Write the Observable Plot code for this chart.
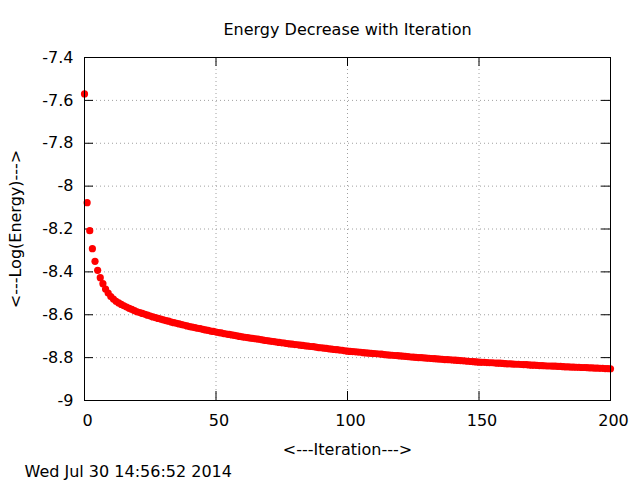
<!DOCTYPE html>
<html><head><meta charset="utf-8">
<script src="https://cdn.jsdelivr.net/npm/d3@7"></script>
<script src="https://cdn.jsdelivr.net/npm/@observablehq/plot@0.6"></script>
<style>body{margin:0;background:#fff} svg{font-family:"DejaVu Sans"}</style>
</head><body><div id="chart"></div>
<script>
const energy = [
-7.570,-8.077,-8.208,-8.292,-8.351,-8.393,-8.427,-8.455,-8.480,-8.499,
-8.515,-8.527,-8.537,-8.545,-8.552,-8.558,-8.564,-8.570,-8.575,-8.581,
-8.586,-8.590,-8.594,-8.598,-8.602,-8.606,-8.610,-8.613,-8.617,-8.620,
-8.624,-8.627,-8.630,-8.634,-8.637,-8.640,-8.643,-8.646,-8.649,-8.652,
-8.655,-8.658,-8.660,-8.663,-8.665,-8.668,-8.671,-8.673,-8.676,-8.678,
-8.681,-8.683,-8.685,-8.688,-8.690,-8.692,-8.694,-8.696,-8.699,-8.701,
-8.703,-8.705,-8.707,-8.709,-8.710,-8.712,-8.714,-8.716,-8.718,-8.720,
-8.722,-8.724,-8.725,-8.727,-8.729,-8.731,-8.732,-8.734,-8.736,-8.737,
-8.739,-8.740,-8.742,-8.743,-8.745,-8.746,-8.748,-8.749,-8.751,-8.753,
-8.754,-8.756,-8.757,-8.759,-8.760,-8.762,-8.763,-8.765,-8.766,-8.768,
-8.770,-8.771,-8.772,-8.773,-8.774,-8.775,-8.777,-8.778,-8.779,-8.780,
-8.781,-8.782,-8.783,-8.784,-8.786,-8.787,-8.788,-8.789,-8.790,-8.791,
-8.792,-8.793,-8.794,-8.795,-8.797,-8.798,-8.799,-8.800,-8.800,-8.801,
-8.802,-8.803,-8.804,-8.805,-8.806,-8.807,-8.808,-8.809,-8.809,-8.810,
-8.811,-8.812,-8.813,-8.814,-8.815,-8.816,-8.817,-8.818,-8.819,-8.820,
-8.821,-8.822,-8.822,-8.823,-8.824,-8.824,-8.825,-8.826,-8.826,-8.827,
-8.828,-8.829,-8.829,-8.830,-8.831,-8.831,-8.832,-8.833,-8.833,-8.834,
-8.835,-8.835,-8.836,-8.837,-8.837,-8.838,-8.839,-8.839,-8.840,-8.840,
-8.841,-8.841,-8.842,-8.843,-8.843,-8.844,-8.844,-8.845,-8.845,-8.846,
-8.846,-8.847,-8.848,-8.848,-8.849,-8.849,-8.850,-8.850,-8.851,-8.851,
-8.852];
const iteration = energy.map((_, i) => i);
const xTicks = [0, 50, 100, 150, 200];
const yTicks = [-7.4, -7.6, -7.8, -8, -8.2, -8.4, -8.6, -8.8, -9];
const title = "Energy Decrease with Iteration";
const xLabel = "<---Iteration--->";
const yLabel = "<---Log(Energy)--->";
const stamp = "Wed Jul 30 14:56:52 2014";
const data = iteration.map((x, i) => ({x, y: energy[i]}));

const W = 640, H = 480, mL = 84, mR = 30, mT = 57, mB = 80;
const fw = W - mL - mR, fh = H - mT - mB;
const tick = 9;
const grid = {stroke: "#a0a0a0", strokeOpacity: 1, strokeDasharray: "1,3"};

const plot = Plot.plot({
  width: W, height: H,
  marginLeft: mL, marginRight: mR, marginTop: mT, marginBottom: mB,
  x: {domain: [0, 200]},
  y: {domain: [-9, -7.4]},
  style: {fontFamily: "DejaVu Sans", fontSize: "16px", background: "#fff", color: "#000", overflow: "visible"},
  marks: [
    Plot.gridX(xTicks.slice(1, -1), grid),
    Plot.gridY(yTicks.slice(1, -1), grid),
    Plot.tickX(xTicks, {x: d => d, stroke: "#000", insetTop: fh - tick}),
    Plot.tickX(xTicks, {x: d => d, stroke: "#000", insetBottom: fh - tick}),
    Plot.tickY(yTicks, {y: d => d, stroke: "#000", insetRight: fw - tick}),
    Plot.tickY(yTicks, {y: d => d, stroke: "#000", insetLeft: fw - tick}),
    Plot.dot(data, {x: "x", y: "y", r: 3.6, fill: "#ff0000", stroke: "none"}),
    Plot.frame({stroke: "#000", strokeWidth: 1}),
    Plot.axisX(xTicks, {tickSize: 0, tickPadding: 14, dx: 3, label: null}),
    Plot.axisY(yTicks, {tickSize: 0, tickPadding: 11, label: null, tickFormat: d => String(d)}),
    Plot.text([title], {frameAnchor: "top", dy: -28, lineAnchor: "middle"}),
    Plot.text([xLabel], {frameAnchor: "bottom", dy: 49, lineAnchor: "middle"}),
    Plot.text([yLabel], {frameAnchor: "left", dx: -69, rotate: -90, textAnchor: "middle", lineAnchor: "middle"}),
    Plot.text([stamp], {frameAnchor: "bottom-left", dx: -60, dy: 71, textAnchor: "start", lineAnchor: "middle"})
  ]
});
document.getElementById("chart").appendChild(plot);
</script>
</body></html>
